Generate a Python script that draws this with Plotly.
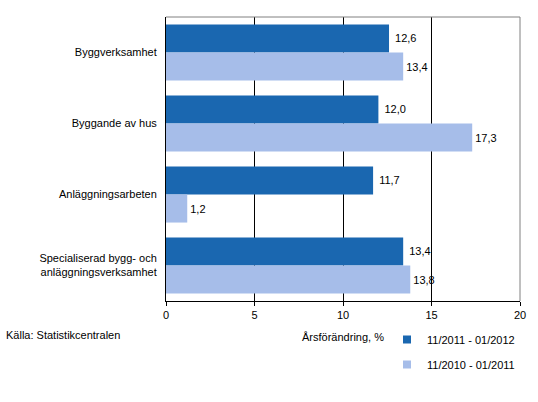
import plotly.graph_objects as go

categories = ["Byggverksamhet", "Byggande av hus", "Anläggningsarbeten",
              "Specialiserad bygg- och<br>anläggningsverksamhet"]
series_2012 = [12.6, 12.0, 11.7, 13.4]
series_2011 = [13.4, 17.3, 1.2, 13.8]
name_2012 = "11/2011 - 01/2012"
name_2011 = "11/2010 - 01/2011"
tick_vals = [0, 5, 10, 15, 20]

font = "Liberation Sans, Arial, sans-serif"
c_dark = "#1a67b0"
c_light = "#a6bde9"

fig = go.Figure()
fig.add_trace(go.Bar(
    y=categories, x=series_2012, orientation="h", name=name_2012,
    marker=dict(color=c_dark, line=dict(width=0)),
    texttemplate=" %{x:.1f}", textposition="outside", cliponaxis=False,
    textfont=dict(size=11, color="#000000", family=font),
    showlegend=False,
))
fig.add_trace(go.Bar(
    y=categories, x=series_2011, orientation="h", name=name_2011,
    marker=dict(color=c_light, line=dict(width=0)),
    texttemplate="%{x:.1f}", textposition="outside", cliponaxis=False,
    textfont=dict(size=11, color="#000000", family=font),
    showlegend=False,
))
# legend entries with small square symbols
for nm, col, grp in [(name_2012, c_dark, "a"), (name_2011, c_light, "b")]:
    fig.add_trace(go.Scatter(
        x=[None], y=[None], mode="markers", name=nm, legendgroup=grp,
        marker=dict(symbol="square", size=8, color=col),
        showlegend=True,
    ))

fig.update_layout(
    width=538, height=402,
    margin=dict(l=166, r=18, t=17, b=101, autoexpand=False),
    paper_bgcolor="white", plot_bgcolor="white",
    separators=", ",
    barmode="group", bargap=0.21, bargroupgap=0,
    font=dict(family=font, size=11, color="#000000"),
    showlegend=True,
    legend=dict(x=(387 - 166) / 354, xanchor="left",
                y=-(325 - 301) / 284, yanchor="top",
                traceorder="grouped", tracegroupgap=6,
                font=dict(size=11, family=font),
                itemwidth=30, bgcolor="rgba(0,0,0,0)"),
    xaxis=dict(range=[0, 20], tickvals=tick_vals, showgrid=True,
               gridcolor="#000000", gridwidth=1,
               ticks="outside", ticklen=4, tickcolor="#000000",
               showline=True, linecolor="#000000", linewidth=1,
               mirror=False, zeroline=False, automargin=False,
               title=dict(text="Årsförändring, %", standoff=13,
                          font=dict(size=11, family=font))),
    yaxis=dict(autorange="reversed", showline=True, linecolor="#000000",
               linewidth=1, ticks="", ticklabelstandoff=6, automargin=False,
               showgrid=False, zeroline=False),
    shapes=[
        dict(type="line", xref="paper", yref="paper", x0=0, x1=1, y0=1, y1=1,
             line=dict(color="#808080", width=1)),
        dict(type="line", xref="paper", yref="paper", x0=1, x1=1, y0=0, y1=1,
             line=dict(color="#808080", width=1)),
    ],
    annotations=[
        dict(text="Källa: Statistikcentralen", xref="paper", yref="paper",
             x=-166 / 354, xanchor="left", y=-(335 - 301) / 284,
             yanchor="middle", xshift=4, showarrow=False,
             font=dict(size=11, family=font)),
    ],
)

fig.write_html("out.html", config={"displayModeBar": False},
               post_script="document.body.style.margin='0';document.body.style.padding='0';")
